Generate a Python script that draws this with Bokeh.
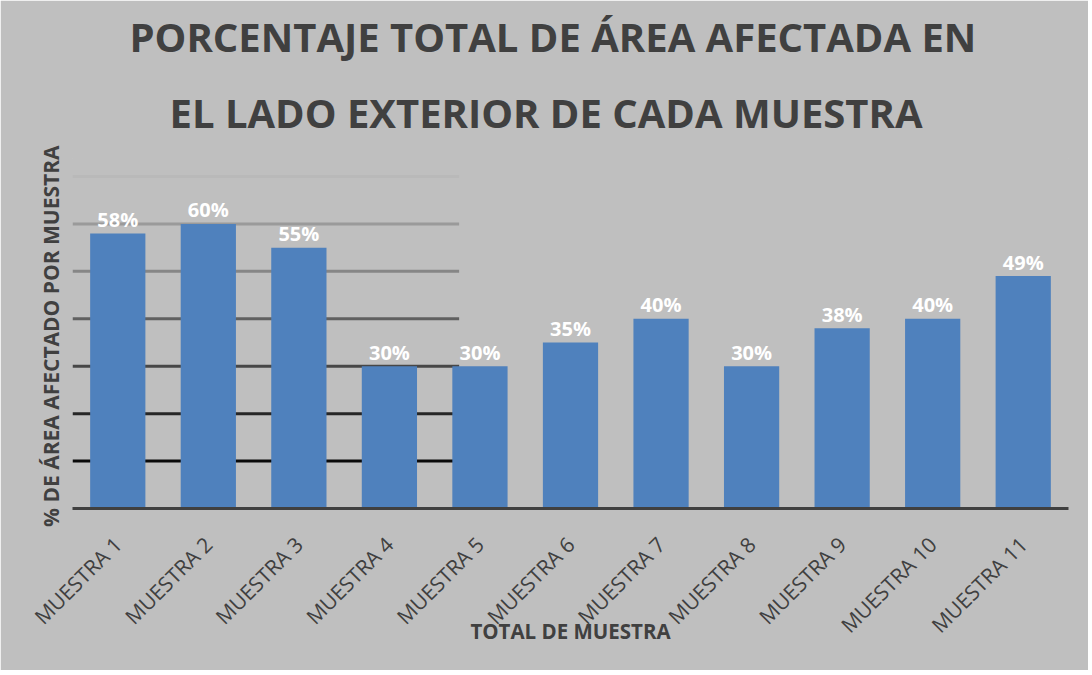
import math
from bokeh.plotting import figure
from bokeh.models import Range1d, FixedTicker, ColumnDataSource, Title
from bokeh.core.properties import value
from bokeh.embed import file_html
from bokeh.resources import INLINE

# ---- data ----
categories = ["MUESTRA 1", "MUESTRA 2", "MUESTRA 3", "MUESTRA 4", "MUESTRA 5",
              "MUESTRA 6", "MUESTRA 7", "MUESTRA 8", "MUESTRA 9", "MUESTRA 10", "MUESTRA 11"]
values = [0.58, 0.60, 0.55, 0.30, 0.30, 0.35, 0.40, 0.30, 0.38, 0.40, 0.49]
value_labels = ["58%", "60%", "55%", "30%", "30%", "35%", "40%", "30%", "38%", "40%", "49%"]
grid_values = [0.1, 0.2, 0.3, 0.4, 0.5, 0.6, 0.7]
grid_colors = ["#0a0a0a", "#262626", "#474747", "#606060", "#868686", "#9a9a9a", "#b9b9b9"]

title_line1 = "PORCENTAJE TOTAL DE ÁREA AFECTADA EN"
title_line2 = "EL LADO EXTERIOR DE CADA MUESTRA"
y_title = "% DE ÁREA AFECTADO  POR MUESTRA"
x_title = "TOTAL DE MUESTRA"

FONT = "Open Sans"
TXT = "#404040"
BG = "#BFBFBF"

xs = list(range(1, len(categories) + 1))
src = ColumnDataSource(dict(x=xs, top=values, lab=value_labels))

p = figure(width=1088, height=670, output_backend="svg", toolbar_location=None,
           x_range=Range1d(0.5, len(categories) + 0.5), y_range=Range1d(0, 0.738),
           min_border_left=72, min_border_right=20, min_border_top=158, min_border_bottom=162)

p.background_fill_color = BG
p.border_fill_color = BG
p.outline_line_color = BG
p.outline_line_width = 1
p.xgrid.visible = False
p.ygrid.visible = False

# two-line title, each line placed on its own
def make_title(txt, offset, standoff, line_height=1.0):
    return Title(text=txt, align="left", offset=offset, standoff=standoff,
                 text_font=FONT, text_font_style="bold", text_font_size="40px",
                 text_line_height=line_height, text_color=TXT)

p.title = None
p.add_layout(make_title(title_line2, 97, 38), "above")
p.add_layout(make_title(title_line1, 57, 0, 1.08), "above")

# partial gridlines
gsrc = ColumnDataSource(dict(y=grid_values, c=grid_colors))
p.segment(x0=0.5, x1=4.77, y0="y", y1="y", line_color="c", line_width=3, source=gsrc)

# bars
p.vbar(x="x", top="top", width=0.61, bottom=0, fill_color="#4F81BD", line_color=None, source=src)

# data labels
p.text(x="x", y="top", text="lab", source=src, text_align="center", text_baseline="alphabetic",
       y_offset=-14, text_color="white", text_font=value(FONT), text_font_style="bold",
       text_font_size="20px")

# x axis
xa = p.xaxis[0]
xa.ticker = FixedTicker(ticks=xs)
xa.major_label_overrides = {x: c for x, c in zip(xs, categories)}
xa.major_label_orientation = math.pi / 4
xa.major_label_text_font = FONT
xa.major_label_text_font_size = "21px"
xa.major_label_text_color = TXT
xa.major_label_standoff = 26
xa.major_tick_line_color = None
xa.minor_tick_line_color = None
xa.axis_line_color = "#404040"
xa.axis_line_width = 3
xa.axis_label = x_title
xa.axis_label_text_font = FONT
xa.axis_label_text_font_style = "bold"
xa.axis_label_text_font_size = "20.5px"
xa.axis_label_text_color = TXT
xa.axis_label_standoff = -34

# y axis
ya = p.yaxis[0]
ya.ticker = FixedTicker(ticks=[])
ya.axis_line_color = None
ya.major_tick_line_color = None
ya.minor_tick_line_color = None
ya.axis_label = y_title
ya.axis_label_text_font = FONT
ya.axis_label_text_font_style = "bold"
ya.axis_label_text_font_size = "21px"
ya.axis_label_text_color = TXT
ya.axis_label_standoff = 8

open("out.html", "w").write(file_html(p, INLINE))
